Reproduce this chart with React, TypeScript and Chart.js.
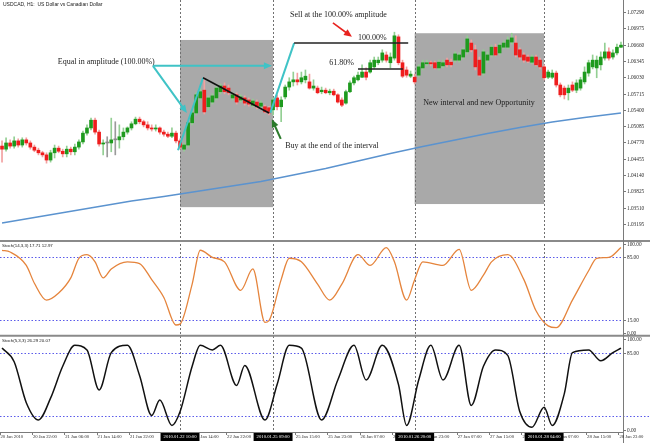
import React, { useEffect, useRef } from "react";
import { Chart, registerables } from "chart.js";

Chart.register(...registerables);

// ---------- USDCAD H1 candles (20 Jan 14:00 .. 28 Jan 23:00) ----------
const openP = [
  1.0470, 1.0464, 1.0476, 1.0470, 1.0480, 1.0472, 1.0482, 1.0476, 1.0468, 1.0462,
  1.0457, 1.0453, 1.0443, 1.0457, 1.0466, 1.0460, 1.0455, 1.0464, 1.0459, 1.0468,
  1.0478, 1.0495, 1.0505, 1.0520, 1.0497, 1.0474, 1.0476, 1.0476, 1.0482, 1.0482,
  1.0488, 1.0497, 1.0505, 1.0513, 1.0522, 1.0517, 1.0511, 1.0505, 1.0503, 1.0505,
  1.0497, 1.0493, 1.0489, 1.0495, 1.0480, 1.0464, 1.0472, 1.0515, 1.0534, 1.0563,
  1.0578, 1.0546, 1.0555, 1.0563, 1.0575, 1.0586, 1.0582, 1.0563, 1.0569, 1.0559,
  1.0563, 1.0559, 1.0549, 1.0555, 1.0547, 1.0546, 1.0544, 1.0540, 1.0563, 1.0546,
  1.0565, 1.0584, 1.0594, 1.0598, 1.0594, 1.0598, 1.0594, 1.0582, 1.0582, 1.0575,
  1.0578, 1.0573, 1.0576, 1.0569, 1.0559, 1.0553, 1.0575, 1.0592, 1.0598, 1.0603,
  1.0613, 1.0613, 1.0623, 1.0631, 1.0636, 1.0646, 1.0631, 1.0640, 1.0681, 1.0631,
  1.0617, 1.0605, 1.0603, 1.0607, 1.0621, 1.0629, 1.0631, 1.0631, 1.0621, 1.0625,
  1.0636, 1.0632, 1.0636, 1.0636, 1.0642, 1.0652, 1.0669, 1.0656, 1.0636, 1.0611,
  1.0636, 1.0646, 1.0661, 1.0650, 1.0661, 1.0661, 1.0671, 1.0669, 1.0656, 1.0646,
  1.0642, 1.0632, 1.0642, 1.0636, 1.0623, 1.0603, 1.0603, 1.0611, 1.0588, 1.0582,
  1.0573, 1.0588, 1.0578, 1.0582, 1.0594, 1.0611, 1.0623, 1.0621, 1.0627, 1.0640,
  1.0652, 1.0642, 1.0650, 1.0661,
];
const highP = [
  1.0480, 1.0486, 1.0482, 1.0488, 1.0484, 1.0486, 1.0486, 1.0480, 1.0472, 1.0466,
  1.0460, 1.0457, 1.0462, 1.0472, 1.0470, 1.0464, 1.0470, 1.0468, 1.0474, 1.0482,
  1.0499, 1.0511, 1.0524, 1.0524, 1.0501, 1.0482, 1.0488, 1.0524, 1.0517, 1.0511,
  1.0505, 1.0507, 1.0517, 1.0526, 1.0526, 1.0520, 1.0517, 1.0511, 1.0511, 1.0507,
  1.0501, 1.0497, 1.0505, 1.0499, 1.0484, 1.0476, 1.0518, 1.0538, 1.0573, 1.0582,
  1.0602, 1.0567, 1.0571, 1.0586, 1.0590, 1.0592, 1.0588, 1.0573, 1.0573, 1.0569,
  1.0567, 1.0563, 1.0561, 1.0559, 1.0557, 1.0549, 1.0547, 1.0563, 1.0569, 1.0565,
  1.0588, 1.0602, 1.0613, 1.0611, 1.0613, 1.0617, 1.0609, 1.0598, 1.0586, 1.0584,
  1.0582, 1.0580, 1.0580, 1.0571, 1.0563, 1.0578, 1.0596, 1.0605, 1.0613, 1.0627,
  1.0621, 1.0636, 1.0642, 1.0642, 1.0656, 1.0652, 1.0650, 1.0690, 1.0685, 1.0636,
  1.0623, 1.0615, 1.0609, 1.0627, 1.0636, 1.0636, 1.0634, 1.0634, 1.0636, 1.0636,
  1.0640, 1.0638, 1.0652, 1.0650, 1.0660, 1.0683, 1.0675, 1.0665, 1.0642, 1.0656,
  1.0652, 1.0665, 1.0667, 1.0669, 1.0673, 1.0681, 1.0688, 1.0683, 1.0660, 1.0650,
  1.0646, 1.0646, 1.0646, 1.0640, 1.0627, 1.0617, 1.0617, 1.0615, 1.0592, 1.0586,
  1.0588, 1.0594, 1.0598, 1.0603, 1.0623, 1.0636, 1.0646, 1.0644, 1.0652, 1.0669,
  1.0660, 1.0656, 1.0667, 1.0671,
];
const lowP = [
  1.0439, 1.0460, 1.0466, 1.0466, 1.0468, 1.0468, 1.0472, 1.0464, 1.0459, 1.0453,
  1.0449, 1.0437, 1.0439, 1.0447, 1.0457, 1.0449, 1.0449, 1.0453, 1.0453, 1.0464,
  1.0474, 1.0491, 1.0501, 1.0493, 1.0470, 1.0453, 1.0449, 1.0459, 1.0453, 1.0466,
  1.0482, 1.0493, 1.0501, 1.0511, 1.0513, 1.0507, 1.0501, 1.0499, 1.0499, 1.0493,
  1.0489, 1.0486, 1.0486, 1.0476, 1.0464, 1.0460, 1.0468, 1.0511, 1.0530, 1.0559,
  1.0532, 1.0540, 1.0551, 1.0559, 1.0571, 1.0571, 1.0569, 1.0559, 1.0551, 1.0555,
  1.0549, 1.0547, 1.0546, 1.0542, 1.0544, 1.0534, 1.0530, 1.0530, 1.0540, 1.0517,
  1.0561, 1.0578, 1.0586, 1.0588, 1.0590, 1.0592, 1.0580, 1.0578, 1.0571, 1.0571,
  1.0571, 1.0569, 1.0567, 1.0553, 1.0546, 1.0551, 1.0573, 1.0588, 1.0596, 1.0602,
  1.0598, 1.0611, 1.0619, 1.0627, 1.0632, 1.0632, 1.0621, 1.0636, 1.0627, 1.0602,
  1.0603, 1.0602, 1.0590, 1.0603, 1.0617, 1.0625, 1.0625, 1.0619, 1.0617, 1.0621,
  1.0623, 1.0623, 1.0632, 1.0632, 1.0638, 1.0648, 1.0652, 1.0617, 1.0605, 1.0607,
  1.0631, 1.0642, 1.0644, 1.0646, 1.0658, 1.0658, 1.0667, 1.0642, 1.0638, 1.0632,
  1.0631, 1.0629, 1.0625, 1.0619, 1.0598, 1.0600, 1.0600, 1.0584, 1.0565, 1.0561,
  1.0559, 1.0575, 1.0573, 1.0578, 1.0590, 1.0605, 1.0619, 1.0602, 1.0617, 1.0636,
  1.0636, 1.0638, 1.0646, 1.0660,
];
const closeP = [
  1.0464, 1.0476, 1.0470, 1.0480, 1.0472, 1.0482, 1.0476, 1.0468, 1.0462, 1.0457,
  1.0453, 1.0443, 1.0457, 1.0466, 1.0460, 1.0455, 1.0464, 1.0459, 1.0468, 1.0478,
  1.0495, 1.0505, 1.0520, 1.0497, 1.0474, 1.0476, 1.0476, 1.0482, 1.0482, 1.0488,
  1.0497, 1.0505, 1.0513, 1.0522, 1.0517, 1.0511, 1.0505, 1.0503, 1.0505, 1.0497,
  1.0493, 1.0489, 1.0495, 1.0480, 1.0468, 1.0472, 1.0515, 1.0534, 1.0569, 1.0575,
  1.0536, 1.0563, 1.0567, 1.0582, 1.0586, 1.0575, 1.0573, 1.0569, 1.0555, 1.0565,
  1.0553, 1.0551, 1.0557, 1.0546, 1.0553, 1.0536, 1.0534, 1.0559, 1.0546, 1.0559,
  1.0584, 1.0594, 1.0598, 1.0594, 1.0602, 1.0605, 1.0582, 1.0586, 1.0573, 1.0578,
  1.0573, 1.0576, 1.0569, 1.0555, 1.0549, 1.0575, 1.0592, 1.0602, 1.0607, 1.0613,
  1.0603, 1.0631, 1.0636, 1.0636, 1.0650, 1.0636, 1.0642, 1.0683, 1.0631, 1.0605,
  1.0607, 1.0609, 1.0594, 1.0623, 1.0631, 1.0631, 1.0629, 1.0621, 1.0632, 1.0631,
  1.0627, 1.0627, 1.0648, 1.0646, 1.0656, 1.0677, 1.0656, 1.0623, 1.0607, 1.0652,
  1.0646, 1.0661, 1.0646, 1.0665, 1.0669, 1.0675, 1.0679, 1.0646, 1.0642, 1.0636,
  1.0634, 1.0642, 1.0627, 1.0623, 1.0602, 1.0613, 1.0611, 1.0588, 1.0569, 1.0569,
  1.0582, 1.0578, 1.0592, 1.0598, 1.0613, 1.0631, 1.0636, 1.0636, 1.0642, 1.0652,
  1.0640, 1.0650, 1.0661, 1.0665,
];

// Moving average (read at bars)
const maBars = [0, 8, 16, 24, 32, 40, 48, 56, 64, 72, 80, 88, 96, 104, 112, 120, 128, 136, 144, 153];
const maValues = [
  1.03214, 1.0332, 1.03426, 1.03532, 1.03639, 1.03726, 1.03822, 1.03919, 1.04015, 1.04141,
  1.04267, 1.04411, 1.04556, 1.04692, 1.04817, 1.04943, 1.05059, 1.05165, 1.05252, 1.05339,
];

// Stoch(14,3,3)
const stoch14Bars = [0, 2, 6, 8, 11, 14, 17, 19, 21, 23, 25, 27, 31, 34, 37, 40, 43, 44, 47, 49, 52, 55, 59, 62, 65, 66, 69, 71, 74, 78, 81, 84, 88, 91, 95, 97, 100, 102, 104, 109, 113, 116, 119, 121, 125, 129, 132, 135, 137, 141, 145, 147, 150, 153];
const stoch14Values = [93, 91, 76, 56, 37, 45, 62, 84, 88, 80, 62, 72, 80, 78, 60, 40, 9, 10, 55, 93, 85, 80, 48, 72, 12, 14, 60, 84, 80, 55, 37, 55, 88, 76, 96, 80, 37, 60, 80, 76, 94, 48, 65, 80, 88, 60, 25, 8, 6, 37, 70, 84, 85, 96];

// Stoch(5,3,3)
const stoch5Bars = [0, 3, 6, 9, 12, 15, 18, 21, 24, 27, 31, 34, 37, 39, 42, 44, 47, 49, 52, 54, 58, 60, 65, 68, 71, 74, 79, 83, 87, 90, 94, 98, 100, 103, 106, 109, 113, 116, 119, 122, 125, 128, 131, 134, 136, 139, 141, 145, 148, 151, 153];
const stoch5Values = [90, 75, 30, 11, 35, 70, 93, 88, 44, 85, 93, 60, 16, 33, 5, 20, 70, 93, 88, 93, 49, 71, 11, 50, 93, 90, 11, 55, 93, 55, 93, 50, 5, 55, 93, 55, 93, 27, 70, 88, 82, 20, 3, 25, 5, 40, 85, 88, 76, 85, 90];

// Axis ticks
const priceTicks = [1.0729, 1.06975, 1.0666, 1.06345, 1.0603, 1.05715, 1.054, 1.05085, 1.0477, 1.04455, 1.0414, 1.03825, 1.0351, 1.03195];
const stochTicks = [100, 85, 15, 0];
const timeTickBars = [0, 8, 16, 24, 32, 40, 48, 56, 65, 73, 81, 89, 97, 105, 113, 121, 129, 137, 145, 153];
const timeTickLabels = [
  "20 Jan 2010", "20 Jan 22:00", "21 Jan 06:00", "21 Jan 14:00", "21 Jan 22:00", "22 Jan 06:00",
  "22 Jan 14:00", "22 Jan 22:00", "25 Jan 07:00", "25 Jan 15:00", "25 Jan 23:00", "26 Jan 07:00",
  "26 Jan 15:00", "26 Jan 23:00", "27 Jan 07:00", "27 Jan 15:00", "27 Jan 23:00", "28 Jan 07:00",
  "28 Jan 15:00", "28 Jan 23:00",
];
const vLineBars = [44, 67, 102, 134];
const vLineLabels = ["2010.01.22 10:00", "2010.01.25 09:00", "2010.01.26 20:00", "2010.01.28 04:00"];

// Shaded intervals
const zoneFrom = [44, 102];
const zoneTo = [67, 134];
const zoneTop = [1.0675, 1.0688];
const zoneBottom = [1.0352, 1.0358];

const CYAN = "#3fc3c6";
const SERIF = "'Liberation Serif', 'Times New Roman', serif";
const SANS = "'Liberation Sans', Arial, sans-serif";

// Annotation lines: [fromBar, fromPrice, toBar, toPrice]
const annoLines: { a: number[]; color: string; w: number; head: boolean }[] = [
  { a: [43.5, 1.0462, 49.7, 1.0602], color: CYAN, w: 2, head: false },
  { a: [37.3, 1.0625, 66.7, 1.0625], color: CYAN, w: 2, head: true },
  { a: [37.3, 1.0625, 45.7, 1.0534], color: CYAN, w: 2, head: true },
  { a: [66.3, 1.0534, 72.2, 1.0669], color: CYAN, w: 2, head: false },
  { a: [49.7, 1.0602, 66.0, 1.0534], color: "#111111", w: 1.6, head: false },
  { a: [72.2, 1.0669, 100.4, 1.0669], color: "#222222", w: 1.4, head: false },
  { a: [88.0, 1.0619, 99.1, 1.0619], color: "#222222", w: 1.4, head: false },
  { a: [81.8, 1.0708, 86.5, 1.0681], color: "#e8231f", w: 1.6, head: true },
  { a: [68.9, 1.0484, 66.7, 1.0522], color: "#2b7a2b", w: 2, head: true },
];
const annoTexts: { at: number[]; text: string }[] = [
  { at: [13.8, 1.0632], text: "Equal in amplitude (100.00%)" },
  { at: [71.2, 1.0723], text: "Sell at the 100.00% amplitude" },
  { at: [88.0, 1.0679], text: "100.00%" },
  { at: [80.9, 1.0631], text: "61.80%" },
  { at: [70.0, 1.0470], text: "Buy at the end of the interval" },
  { at: [104.1, 1.0553], text: "New interval and new Opportunity" },
];

function drawArrow(ctx: CanvasRenderingContext2D, x0: number, y0: number, x1: number, y1: number, color: string, w: number, head: boolean) {
  const ang = Math.atan2(y1 - y0, x1 - x0);
  const L = 8, W = 3.5;
  const ex = head ? x1 - Math.cos(ang) * L * 0.6 : x1;
  const ey = head ? y1 - Math.sin(ang) * L * 0.6 : y1;
  ctx.strokeStyle = color;
  ctx.lineWidth = w;
  ctx.setLineDash([]);
  ctx.beginPath();
  ctx.moveTo(x0, y0);
  ctx.lineTo(ex, ey);
  ctx.stroke();
  if (head) {
    const bx = x1 - Math.cos(ang) * L, by = y1 - Math.sin(ang) * L;
    const px = -Math.sin(ang) * W, py = Math.cos(ang) * W;
    ctx.fillStyle = color;
    ctx.beginPath();
    ctx.moveTo(x1, y1);
    ctx.lineTo(bx + px, by + py);
    ctx.lineTo(bx - px, by - py);
    ctx.closePath();
    ctx.fill();
  }
}

const overlayPlugin = {
  id: "overlay",
  beforeDatasetsDraw(chart: any) {
    const { ctx, chartArea: a, scales } = chart;
    const X = scales.x, Y = scales.y;
    ctx.save();
    ctx.fillStyle = "#a9a9a9";
    zoneFrom.forEach((f, k) => {
      const x0 = X.getPixelForValue(f), x1 = X.getPixelForValue(zoneTo[k]);
      const y0 = Y.getPixelForValue(zoneTop[k]), y1 = Y.getPixelForValue(zoneBottom[k]);
      ctx.fillRect(x0, y0, x1 - x0, y1 - y0);
    });
    // stochastic level lines
    ctx.strokeStyle = "#5b5bea";
    ctx.lineWidth = 1;
    ctx.setLineDash([1.5, 2]);
    [scales.yS1, scales.yS2].forEach((S: any, k: number) => {
      [85, 15].forEach((lv) => {
        const y = Math.round(S.getPixelForValue(lv)) + 0.5;
        ctx.beginPath();
        ctx.moveTo(0, y);
        ctx.lineTo(k === 1 && lv === 15 ? 650 : a.right + 3, y);
        ctx.stroke();
      });
    });
    // vertical dotted lines
    ctx.strokeStyle = "#707070";
    ctx.setLineDash([2, 2]);
    vLineBars.forEach((b) => {
      const x = Math.round(X.getPixelForValue(b)) + 0.5;
      ctx.beginPath();
      ctx.moveTo(x, 0);
      ctx.lineTo(x, a.bottom);
      ctx.stroke();
    });
    ctx.restore();
  },
  afterDatasetsDraw(chart: any) {
    const { ctx, chartArea: a, scales } = chart;
    const X = scales.x, Y = scales.y, S1 = scales.yS1, S2 = scales.yS2;
    ctx.save();
    ctx.setLineDash([]);

    // annotations
    annoLines.forEach((l) => {
      drawArrow(ctx, X.getPixelForValue(l.a[0]), Y.getPixelForValue(l.a[1]), X.getPixelForValue(l.a[2]), Y.getPixelForValue(l.a[3]), l.color, l.w, l.head);
    });
    ctx.fillStyle = "#1c1c1c";
    ctx.font = `8px ${SERIF}`;
    ctx.textBaseline = "middle";
    ctx.textAlign = "left";
    annoTexts.forEach((t) => {
      ctx.fillText(t.text, X.getPixelForValue(t.at[0]), Y.getPixelForValue(t.at[1]));
    });

    // panel separators
    ctx.strokeStyle = "#8a8a8a";
    ctx.lineWidth = 2;
    const sep1 = S1.getPixelForValue(103.5);
    const sep2 = S2.getPixelForValue(103.5);
    [sep1, sep2].forEach((y: number) => {
      ctx.beginPath();
      ctx.moveTo(0, y);
      ctx.lineTo(650, y);
      ctx.stroke();
    });
    // right axis and bottom line
    ctx.lineWidth = 1;
    ctx.strokeStyle = "#7a7a7a";
    ctx.beginPath();
    ctx.moveTo(a.right + 0.5, 0);
    ctx.lineTo(a.right + 0.5, 443);
    ctx.moveTo(0, a.bottom + 0.5);
    ctx.lineTo(a.right, a.bottom + 0.5);
    ctx.stroke();

    // price labels
    ctx.fillStyle = "#2a2a2a";
    ctx.font = `5.3px ${SERIF}`;
    ctx.textBaseline = "middle";
    priceTicks.forEach((p) => {
      const y = Math.round(Y.getPixelForValue(p)) + 0.5;
      ctx.beginPath();
      ctx.moveTo(a.right, y);
      ctx.lineTo(a.right + 3, y);
      ctx.stroke();
      ctx.fillText(p.toFixed(5), a.right + 4, y);
    });
    // stoch labels
    stochTicks.forEach((v) => {
      const y = Math.round(S1.getPixelForValue(v)) + 0.5;
      ctx.beginPath();
      ctx.moveTo(a.right, y);
      ctx.lineTo(a.right + 3, y);
      ctx.stroke();
      ctx.fillText(v.toFixed(2), a.right + 4, y);
    });
    stochTicks.filter((v) => v !== 15).forEach((v) => {
      const y = Math.round(S2.getPixelForValue(v)) + 0.5;
      ctx.beginPath();
      ctx.moveTo(a.right, y);
      ctx.lineTo(a.right + 3, y);
      ctx.stroke();
      ctx.fillText(v.toFixed(2), a.right + 4, y);
    });

    // time labels
    ctx.font = `4.7px ${SERIF}`;
    const ly = 437;
    timeTickBars.forEach((b, k) => {
      const x = X.getPixelForValue(b) - 2.5;
      ctx.beginPath();
      ctx.moveTo(Math.round(x) + 0.5, a.bottom);
      ctx.lineTo(Math.round(x) + 0.5, a.bottom + 3);
      ctx.stroke();
      ctx.fillStyle = "#2a2a2a";
      ctx.fillText(timeTickLabels[k], x + 1, ly);
    });
    vLineBars.forEach((b, k) => {
      const x = X.getPixelForValue(b);
      const w = ctx.measureText(vLineLabels[k]).width + 6;
      ctx.fillStyle = "#000";
      ctx.fillRect(x - w / 2, ly - 4, w, 8);
      ctx.fillStyle = "#fff";
      ctx.textAlign = "center";
      ctx.fillText(vLineLabels[k], x, ly);
      ctx.textAlign = "left";
    });

    // titles
    ctx.fillStyle = "#1a1a1a";
    ctx.font = `5px ${SANS}`;
    ctx.fillText("USDCAD, H1:  US Dollar vs Canadian Dollar", 3, 5);
    ctx.font = `4.4px ${SANS}`;
    ctx.fillText("Stoch(14,3,3) 17.71 12.97", 2, sep1 + 5);
    ctx.fillText("Stoch(5,3,3) 26.29 20.07", 2, sep2 + 5);
    ctx.restore();
  },
};

export default function App() {
  const ref = useRef<HTMLCanvasElement>(null);
  useEffect(() => {
    document.body.style.margin = "0";
    const idx = openP.map((_, i) => i);
    const dir = idx.map((i) => (closeP[i] > openP[i] ? 1 : closeP[i] < openP[i] ? -1 : 0));
    const bodyColor = dir.map((d) => (d > 0 ? "#1e9a1e" : d < 0 ? "#ef1d1d" : "#8a8a8a"));
    const wickColor = dir.map((d) => (d > 0 ? "#93cf93" : d < 0 ? "#f2a0a0" : "#9a9a9a"));
    const chart = new Chart(ref.current as HTMLCanvasElement, {
      type: "bar",
      data: {
        datasets: [
          {
            type: "bar",
            data: idx.map((i) => ({ x: i, y: [lowP[i], highP[i]] })) as any,
            backgroundColor: wickColor,
            barThickness: 1,
            grouped: false,
            yAxisID: "y",
            order: 4,
          } as any,
          {
            type: "bar",
            data: idx.map((i) => ({ x: i, y: [Math.min(openP[i], closeP[i]), Math.max(openP[i], closeP[i])] })) as any,
            backgroundColor: bodyColor,
            barThickness: 3,
            minBarLength: 1,
            grouped: false,
            yAxisID: "y",
            order: 3,
          } as any,
          {
            type: "line",
            data: maBars.map((b, k) => ({ x: b, y: maValues[k] })),
            borderColor: "#5b93cf",
            borderWidth: 1.6,
            pointRadius: 0,
            tension: 0,
            yAxisID: "y",
            order: 2,
          } as any,
          {
            type: "line",
            data: stoch14Bars.map((b, k) => ({ x: b, y: stoch14Values[k] })),
            borderColor: "#e5843c",
            borderWidth: 1.3,
            pointRadius: 0,
            cubicInterpolationMode: "monotone",
            yAxisID: "yS1",
            order: 1,
          } as any,
          {
            type: "line",
            data: stoch5Bars.map((b, k) => ({ x: b, y: stoch5Values[k] })),
            borderColor: "#111111",
            borderWidth: 1.5,
            pointRadius: 0,
            cubicInterpolationMode: "monotone",
            yAxisID: "yS2",
            order: 0,
          } as any,
        ],
      },
      options: {
        responsive: false,
        animation: false,
        events: [],
        layout: { padding: { left: 0, right: 27, top: 0, bottom: 11 } },
        plugins: { legend: { display: false }, tooltip: { enabled: false } },
        scales: {
          x: { type: "linear", min: -0.5, max: 153.5, offset: false, display: false },
          y: { type: "linear", min: 0.99176, max: 1.07522, display: false },
          yS1: { type: "linear", axis: "y", min: -111.2, max: 374.2, display: false },
          yS2: { type: "linear", axis: "y", min: -2.2, max: 472.5, display: false },
        } as any,
      },
      plugins: [overlayPlugin],
    } as any);
    return () => chart.destroy();
  }, []);
  return (
    <div style={{ position: "absolute", left: 0, top: 0, width: 650, height: 443, background: "#fff" }}>
      <canvas ref={ref} width={650} height={443} style={{ display: "block" }} />
    </div>
  );
}
